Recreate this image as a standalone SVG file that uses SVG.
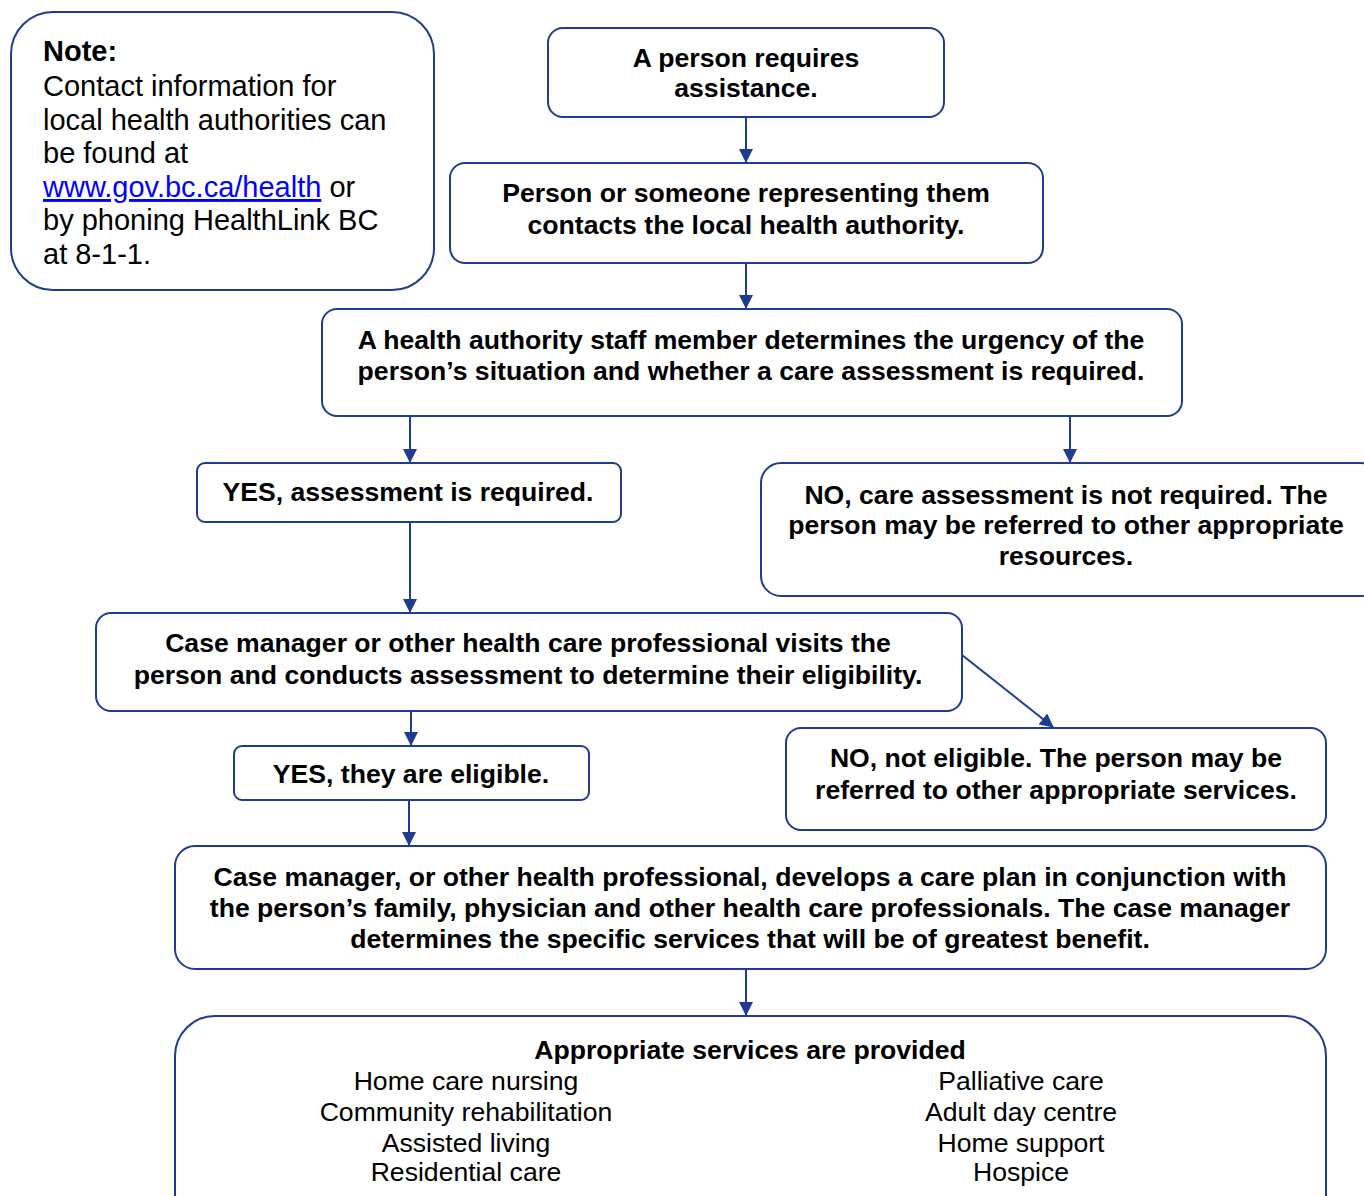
<svg xmlns="http://www.w3.org/2000/svg" width="1364" height="1196" viewBox="0 0 1364 1196">
<style>
.box{fill:#fff;stroke:#1F3C8F;stroke-width:2}
.b{font-family:"Liberation Sans",Arial,sans-serif;font-weight:bold;font-size:26.6px;fill:#000;text-anchor:middle}
.r{font-family:"Liberation Sans",Arial,sans-serif;font-size:26.6px;fill:#000;text-anchor:middle}
.n{font-family:"Liberation Sans",Arial,sans-serif;font-size:29px;fill:#000}
.c{stroke:#1F3C8F;stroke-width:2;fill:none;marker-end:url(#ah)}
</style>
<defs>
<marker id="ah" markerWidth="14" markerHeight="14" refX="13" refY="7" orient="auto" markerUnits="userSpaceOnUse">
<path d="M0,0 L14,7 L0,14 Z" fill="#1F3C8F"/>
</marker>
</defs>
<rect width="1364" height="1196" fill="#fff"/>
<g id="connectors">
<line class="c" x1="746" y1="117" x2="746" y2="162"/>
<line class="c" x1="746" y1="263" x2="746" y2="308"/>
<line class="c" x1="410" y1="416" x2="410" y2="462"/>
<line class="c" x1="1070" y1="416" x2="1070" y2="462"/>
<line class="c" x1="410" y1="522" x2="410" y2="612"/>
<line class="c" x1="962" y1="655" x2="1053" y2="727"/>
<line class="c" x1="411" y1="711" x2="411" y2="745"/>
<line class="c" x1="409" y1="800" x2="409" y2="845"/>
<line class="c" x1="746" y1="969" x2="746" y2="1015"/>
</g>
<g id="note">
<rect class="box" x="11" y="12" width="423" height="278" rx="42"/>
<text class="n" x="43" y="61" font-weight="bold">Note:</text>
<text class="n" x="43" y="96">Contact information for</text>
<text class="n" x="43" y="130">local health authorities can</text>
<text class="n" x="43" y="163">be found at</text>
<text class="n" x="43" y="197"><tspan fill="#0000FF" text-decoration="underline">www.gov.bc.ca/health</tspan> or</text>
<text class="n" x="43" y="230">by phoning HealthLink BC</text>
<text class="n" x="43" y="264">at 8-1-1.</text>
</g>
<g id="n1">
<rect class="box" x="548" y="28" width="396" height="89" rx="15"/>
<text class="b" x="746" y="67">A person requires</text>
<text class="b" x="746" y="97">assistance.</text>
</g>
<g id="n2">
<rect class="box" x="450" y="163" width="593" height="100" rx="15"/>
<text class="b" x="746" y="202">Person or someone representing them</text>
<text class="b" x="746" y="234">contacts the local health authority.</text>
</g>
<g id="n3">
<rect class="box" x="322" y="309" width="860" height="107" rx="15"/>
<text class="b" x="751" y="349">A health authority staff member determines the urgency of the</text>
<text class="b" x="751" y="380">person’s situation and whether a care assessment is required.</text>
</g>
<g id="yes1">
<rect class="box" x="197" y="463" width="424" height="59" rx="8"/>
<text class="b" x="408" y="501">YES, assessment is required.</text>
</g>
<g id="no1">
<rect class="box" x="761" y="463" width="620" height="133" rx="20"/>
<text class="b" x="1066" y="504">NO, care assessment is not required. The</text>
<text class="b" x="1066" y="534">person may be referred to other appropriate</text>
<text class="b" x="1066" y="565">resources.</text>
</g>
<g id="n4">
<rect class="box" x="96" y="613" width="866" height="98" rx="15"/>
<text class="b" x="528" y="652">Case manager or other health care professional visits the</text>
<text class="b" x="528" y="684">person and conducts assessment to determine their eligibility.</text>
</g>
<g id="no2">
<rect class="box" x="786" y="728" width="540" height="102" rx="15"/>
<text class="b" x="1056" y="767">NO, not eligible. The person may be</text>
<text class="b" x="1056" y="799">referred to other appropriate services.</text>
</g>
<g id="yes2">
<rect class="box" x="234" y="746" width="355" height="54" rx="8"/>
<text class="b" x="411" y="783">YES, they are eligible.</text>
</g>
<g id="n5">
<rect class="box" x="175" y="846" width="1151" height="123" rx="20"/>
<text class="b" x="750" y="886">Case manager, or other health professional, develops a care plan in conjunction with</text>
<text class="b" x="750" y="917">the person’s family, physician and other health care professionals. The case manager</text>
<text class="b" x="750" y="948">determines the specific services that will be of greatest benefit.</text>
</g>
<g id="n6">
<rect class="box" x="175" y="1016" width="1151" height="220" rx="40"/>
<text class="b" x="750" y="1059">Appropriate services are provided</text>
<text class="r" x="466" y="1090">Home care nursing</text>
<text class="r" x="466" y="1121">Community rehabilitation</text>
<text class="r" x="466" y="1152">Assisted living</text>
<text class="r" x="466" y="1181">Residential care</text>
<text class="r" x="1021" y="1090">Palliative care</text>
<text class="r" x="1021" y="1121">Adult day centre</text>
<text class="r" x="1021" y="1152">Home support</text>
<text class="r" x="1021" y="1181">Hospice</text>
</g>
</svg>
